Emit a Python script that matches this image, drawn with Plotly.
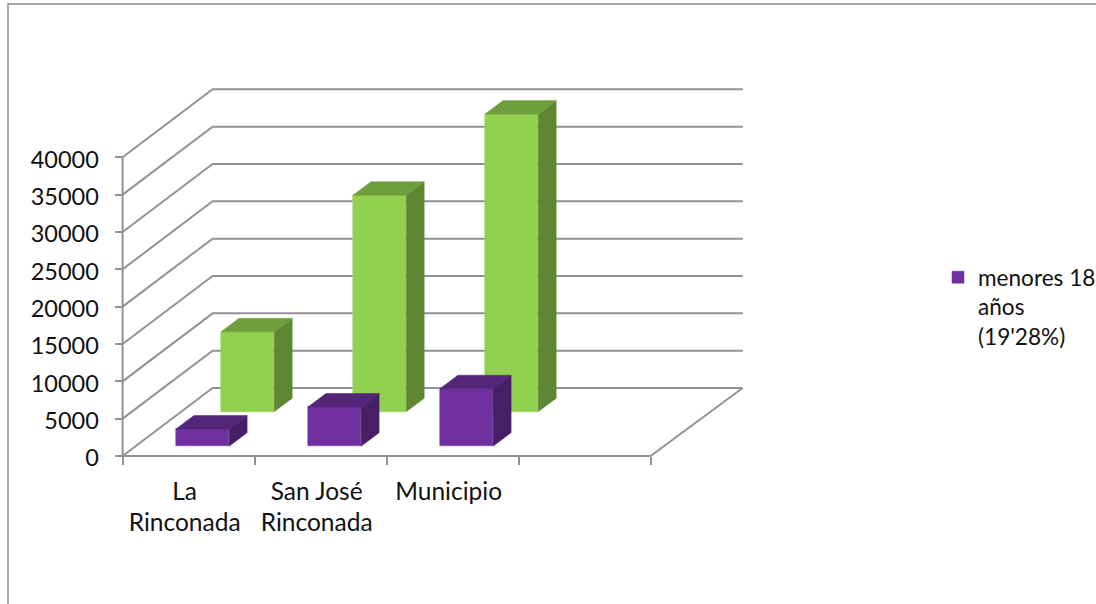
import plotly.graph_objects as go

# ---- data ----
categories = ["La<br>Rinconada", "San José<br>Rinconada", "Municipio"]
purple_values = [2300, 5250, 7700]
green_values = [10700, 29000, 39850]
y_ticks = [0, 5000, 10000, 15000, 20000, 25000, 30000, 35000, 40000]
legend_label = "menores 18<br>años<br>(19'28%)"

# ---- canvas / scale setup ----
W, H = 1096, 604
X0_PX, CAT_PX = 122.6, 132.0          # pixel of category edge 0, pixels per category
Y0_PX, PX_PER_UNIT = 456.0, 298.7 / 40000
N_SLOTS = 4

x_range = [-X0_PX / CAT_PX, (W - X0_PX) / CAT_PX]
y_range = [-(H - Y0_PX) / PX_PER_UNIT, Y0_PX / PX_PER_UNIT]

def dx(px):
    return px / CAT_PX

def dy(px):
    return px / PX_PER_UNIT

WALL_DX, WALL_DX_R, WALL_DY = dx(90), dx(92), dy(68)
BAR_W = dx(53.2)
BAR_DX, BAR_DY = dx(18), dy(13.5)

GRID = "#929292"
FONT = "Lato, 'Open Sans', sans-serif"
TXT = "#111111"

fig = go.Figure()

# ---- walls ----
def line_trace(xs, ys, width=2, color=GRID):
    return go.Scatter(x=xs, y=ys, mode="lines", line=dict(color=color, width=width),
                      hoverinfo="skip", showlegend=False)

for t in y_ticks:
    xs = [0, WALL_DX, N_SLOTS + WALL_DX_R]
    ys = [t, t + WALL_DY, t + WALL_DY]
    fig.add_trace(line_trace(xs, ys))
# side edge of floor and the two front axis lines
fig.add_trace(line_trace([N_SLOTS, N_SLOTS + WALL_DX_R], [0, WALL_DY]))
fig.add_trace(line_trace([0, N_SLOTS], [0, 0]))
fig.add_trace(line_trace([0, 0], [y_ticks[0], y_ticks[-1]]))

# ---- bars ----
def add_series(values, color, top_c, side_c, centre_off, base, xa, ya, name, legend):
    xs = [i + centre_off for i in range(len(values))]
    fig.add_trace(go.Bar(x=xs, y=values, base=[base] * len(values), width=BAR_W, name=name,
                         marker=dict(color=color, line=dict(color=color, width=0.5)),
                         showlegend=legend, xaxis=xa, yaxis=ya, hoverinfo="y"))
    for x, v in zip(xs, values):
        l, r = x - BAR_W / 2, x + BAR_W / 2
        b, t = base, base + v
        fig.add_trace(go.Scatter(x=[r, r + BAR_DX, r + BAR_DX, r, r],
                                 y=[b, b + BAR_DY, t + BAR_DY, t, b],
                                 mode="lines", fill="toself", fillcolor=side_c,
                                 line=dict(color=side_c, width=0.5), hoverinfo="skip",
                                 showlegend=False, xaxis=xa, yaxis=ya))
        fig.add_trace(go.Scatter(x=[l, r, r + BAR_DX, l + BAR_DX, l],
                                 y=[t, t, t + BAR_DY, t + BAR_DY, t],
                                 mode="lines", fill="toself", fillcolor=top_c,
                                 line=dict(color=top_c, width=0.5), hoverinfo="skip",
                                 showlegend=False, xaxis=xa, yaxis=ya))

add_series(green_values, "#92D050", "#6F9F3D", "#5F8733", dx(125), dy(44.3), "x2", "y2", "mayores", False)
add_series(purple_values, "#7030A0", "#55257A", "#461F66", dx(79.9), dy(9.8), "x3", "y3", legend_label, True)

# ---- layout ----
hidden = dict(visible=False, fixedrange=True)
fig.update_layout(
    width=W, height=H, margin=dict(l=0, r=0, t=0, b=0, pad=0, autoexpand=False),
    paper_bgcolor="white", plot_bgcolor="white",
    font=dict(family=FONT, size=23, color=TXT),
    bargap=0,
    xaxis=dict(range=x_range, domain=[0, 1], anchor="free", position=(H - Y0_PX) / H,
               showgrid=False, zeroline=False, showline=False, fixedrange=True,
               tickmode="array", tickvals=[i + 0.47 for i in range(len(categories))],
               ticktext=categories, ticks="", tickangle=0,
               ticklabelstandoff=18,
               tickfont=dict(family=FONT, size=24.5, color=TXT),
               minor=dict(tickmode="array", tickvals=list(range(N_SLOTS + 1)), ticks="outside",
                          ticklen=8, tickwidth=1.5, tickcolor=GRID, showgrid=False)),
    yaxis=dict(range=y_range, domain=[0, 1], anchor="free", position=X0_PX / W,
               showgrid=False, zeroline=False, showline=False, fixedrange=True,
               tickmode="array", tickvals=y_ticks, ticktext=[str(t) for t in y_ticks],
               ticks="outside", ticklen=8, tickwidth=1.5, tickcolor=GRID,
               ticklabelstandoff=11, ticklabelshift=2,
               tickfont=dict(family=FONT, size=23.5, color=TXT)),
    xaxis2=dict(range=x_range, overlaying="x", anchor="y2", **hidden),
    yaxis2=dict(range=y_range, overlaying="y", anchor="x2", **hidden),
    xaxis3=dict(range=x_range, overlaying="x", anchor="y3", **hidden),
    yaxis3=dict(range=y_range, overlaying="y", anchor="x3", **hidden),
    legend=dict(x=943 / W, y=1 - 256 / H, xanchor="left", yanchor="top",
                indentation=-5, valign="top",
                bgcolor="rgba(0,0,0,0)", font=dict(family=FONT, size=22.6, color=TXT)),
    shapes=[dict(type="path", xref="paper", yref="paper", layer="below",
                 path=f"M {8/W},0 L {8/W},{1-4/H} L 1,{1-4/H}",
                 line=dict(color="#8c8c8c", width=1.5))],
)

fig.write_html("out.html", config=dict(displayModeBar=False),
               post_script="document.body.style.margin='0';")
